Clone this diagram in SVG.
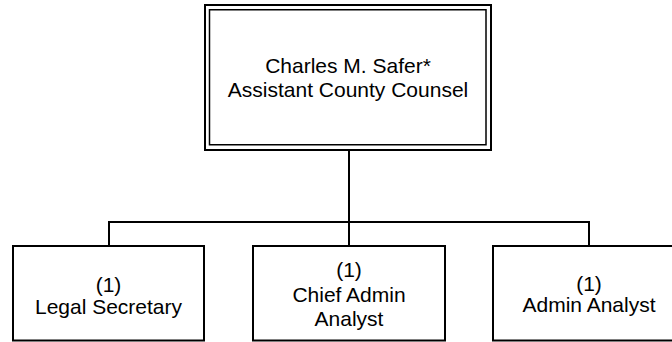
<svg xmlns="http://www.w3.org/2000/svg" width="672" height="342" viewBox="0 0 672 342">
<style>
.box{fill:#fff;stroke:#000;stroke-width:2}
.inner{fill:none;stroke:#000;stroke-width:1.5}
.lbl{font-family:"Liberation Sans",Arial,sans-serif;font-size:21px;fill:#000;text-anchor:middle}
.conn{fill:none;stroke:#000;stroke-width:2}
</style>
<rect width="672" height="342" fill="#fff"/>
<g id="connectors">
<path class="conn" d="M349 150 V246"/>
<path class="conn" d="M109 246 V222 H589 V246"/>
</g>
<g id="node-safer">
<rect class="box" x="205" y="5" width="286" height="145"/>
<rect class="inner" x="209.5" y="9.75" width="276.5" height="135"/>
<text class="lbl" x="348" y="72.5">Charles M. Safer*</text>
<text class="lbl" x="348" y="97">Assistant County Counsel</text>
</g>
<g id="node-legal-secretary">
<rect class="box" x="13" y="246" width="191" height="94.5"/>
<text class="lbl" x="108.5" y="291.5">(1)</text>
<text class="lbl" x="108.5" y="313.5">Legal Secretary</text>
</g>
<g id="node-chief-admin-analyst">
<rect class="box" x="253" y="246" width="192" height="94.5"/>
<text class="lbl" x="349" y="277">(1)</text>
<text class="lbl" x="349" y="302">Chief Admin</text>
<text class="lbl" x="349" y="326">Analyst</text>
</g>
<g id="node-admin-analyst">
<rect class="box" x="493" y="246" width="192" height="94.5"/>
<text class="lbl" x="589" y="290.5">(1)</text>
<text class="lbl" x="589" y="312">Admin Analyst</text>
</g>
</svg>
